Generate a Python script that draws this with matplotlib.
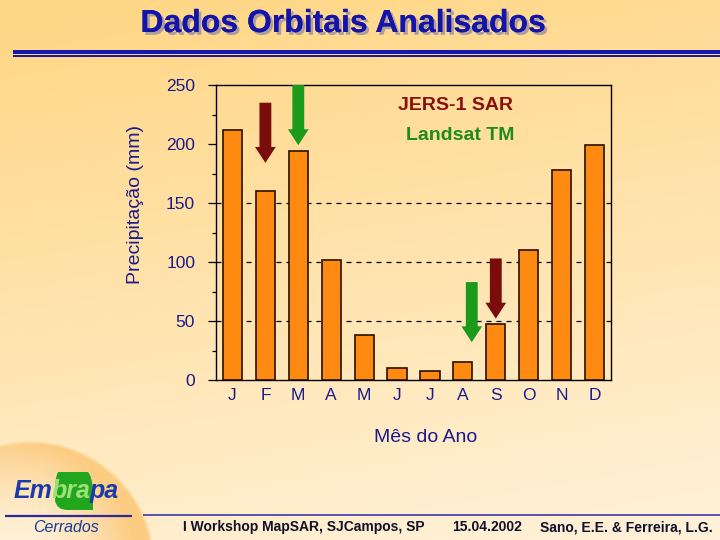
import numpy as np
import matplotlib
matplotlib.use("Agg")
import matplotlib.pyplot as plt
from matplotlib.patches import Rectangle, FancyArrow, PathPatch
from matplotlib.path import Path
import matplotlib.patheffects as pe

# ---------------- data ----------------
months = ["J", "F", "M", "A", "M", "J", "J", "A", "S", "O", "N", "D"]
precip = [212, 160, 194, 102, 38, 10, 7.5, 15, 47.5, 110, 178, 199]
yticks = [0, 50, 100, 150, 200, 250]
grid_levels = [50, 100, 150]

# arrows: (x position in month index, top value, tip value)
jers_x = [1, 8]
jers_top = [235, 103]
jers_tip = [184, 52]
landsat_x = [2, 7.27]
landsat_top = [250, 83]
landsat_tip = [199, 32]

title = "Dados Orbitais Analisados"
ylabel = "Precipitação (mm)"
xlabel = "Mês do Ano"
footer = ["I Workshop MapSAR, SJCampos, SP", "15.04.2002", "Sano, E.E. & Ferreira, L.G."]

FONT = "Liberation Sans"
NAVY = "#1a1a8c"
W, H = 720, 540

fig = plt.figure(figsize=(7.2, 5.4), dpi=100)

# ---------------- background ----------------
bg = fig.add_axes([0, 0, 1, 1], zorder=0)
yy, xx = np.mgrid[0:H, 0:W].astype(float)
c0 = np.array([255, 215, 135]) / 255.0
c1 = np.array([255, 242, 218]) / 255.0
t = np.clip(0.2 * xx / W + 0.85 * yy / H - 0.05, 0, 1)[..., None]
img = c0 * (1 - t) + c1 * t
# radial glow bottom-left
cx, cy, R = 30, 565, 125
d = np.sqrt((xx - cx) ** 2 + (yy - cy) ** 2)
s = np.clip(d / R, 0, 1) ** 1.8
s += 0.3 * np.clip((xx - cx) / R, -1, 1)
s = np.clip(s, 0, 1)[..., None]
cin_l = np.array([255, 243, 220]) / 255.0
cin_o = np.array([252, 204, 130]) / 255.0
glow = cin_l * (1 - s) + cin_o * s
soft = np.clip((R - d) / 4.0, 0, 1)[..., None]
img = img * (1 - soft) + glow * soft
bg.imshow(img, extent=[0, W, H, 0], aspect="auto", interpolation="bilinear")
bg.set_xlim(0, W)
bg.set_ylim(H, 0)
bg.axis("off")

# title with shadow
bg.text(343, 24, title, ha="center", va="center", fontsize=23, fontweight="bold",
        family=FONT, color="#1414a8",
        path_effects=[pe.withSimplePatchShadow(offset=(2, -2), shadow_rgbFace="#9a90a0", alpha=0.8),
                      pe.Normal()])
# title rules
bg.add_patch(Rectangle((13, 50), W - 13, 4.3, color="#1818a8", lw=0))
bg.add_patch(Rectangle((13, 55.3), W - 13, 1.3, color="#1818a8", lw=0))

# footer
bg.plot([5, 132], [516, 516], color="#2a2a9a", lw=1.6, solid_capstyle="butt")
bg.plot([143, 720], [515, 515], color="#3a3aa8", lw=1.2, solid_capstyle="butt")
bg.text(183, 527, footer[0], ha="left", va="center", fontsize=10, fontweight="bold",
        family=FONT, color="#10102a")
bg.text(452, 527, footer[1], ha="left", va="center", fontsize=10, fontweight="bold",
        family=FONT, color="#10102a")
bg.text(713, 527, footer[2], ha="right", va="center", fontsize=10, fontweight="bold",
        family=FONT, color="#10102a")
bg.text(66, 528, "Cerrados", ha="center", va="center", fontsize=11.5, style="italic",
        family=FONT, color="#1a3a9a")

# Embrapa logo: green leaf + text
verts = [(62, 472), (88, 472), (92, 476), (93, 490), (93, 510), (68, 510),
         (56, 510), (55, 500), (55, 490), (55, 478), (58, 472), (62, 472)]
codes = [Path.MOVETO, Path.LINETO, Path.CURVE3, Path.CURVE3, Path.LINETO, Path.LINETO,
         Path.CURVE3, Path.CURVE3, Path.LINETO, Path.CURVE3, Path.CURVE3, Path.CLOSEPOLY]
bg.add_patch(PathPatch(Path(verts, codes), facecolor="#22a61e", edgecolor="none"))
x0 = 14
for part, col in [("Em", "#1a3aaa"), ("bra", "#9ee07a"), ("pa", "#1a3aaa")]:
    tt = bg.text(x0, 491, part, ha="left", va="center", fontsize=18, fontweight="bold",
                 style="italic", family=FONT, color=col)
    fig.canvas.draw()
    bb = tt.get_window_extent()
    x0 += bb.width * 0.97

# ---------------- chart ----------------
ax = fig.add_axes([216 / W, 1 - 380 / H, (611 - 216) / W, (380 - 85) / H], zorder=1)
ax.set_facecolor("none")
x = np.arange(len(months))
ax.bar(x, precip, width=0.58, color="#ff8a12", edgecolor="#2a1000", linewidth=1.2, zorder=3)
for g in grid_levels:
    ax.axhline(g, color="black", lw=0.9, ls=(0, (4, 4)), zorder=1)
ax.set_xlim(-0.5, len(months) - 0.5)
ax.set_ylim(0, 250)
ax.set_yticks(yticks)
ax.set_yticklabels([str(v) for v in yticks], fontsize=12.5, color=NAVY, family=FONT)
ax.set_yticks(np.arange(25, 250, 50), minor=True)
ax.set_xticks(x)
ax.set_xticklabels(months, fontsize=12.5, color=NAVY, family=FONT)
ax.tick_params(axis="y", which="major", length=6, width=0.9, pad=9, left=True)
ax.tick_params(axis="y", which="minor", length=3, width=0.9)
ax.tick_params(axis="x", length=0, pad=6)
for sp in ax.spines.values():
    sp.set_color("black")
    sp.set_linewidth(1.0)

# axis titles placed as in the reference
ax.text((136 - 216) / 395, (380 - 205) / 295, ylabel, rotation=90, ha="center", va="center",
        fontsize=14, color=NAVY, family=FONT, transform=ax.transAxes)
ax.text((426 - 216) / 395, (380 - 437) / 295, xlabel, ha="center", va="center",
        fontsize=14, color=NAVY, family=FONT, transform=ax.transAxes)

# arrows
def draw_arrow(xp, top, tip, col):
    ax.add_patch(FancyArrow(xp, top, 0, tip - top, width=0.36, head_width=0.63,
                            head_length=13.5, length_includes_head=True,
                            color=col, lw=0, zorder=4, clip_on=False))

for xp, tp, tq in zip(jers_x, jers_top, jers_tip):
    draw_arrow(xp, tp, tq, "#7a0c0c")
for xp, tp, tq in zip(landsat_x, landsat_top, landsat_tip):
    draw_arrow(xp, tp, tq, "#1c9a1c")

ax.text(5.03, 233, "JERS-1 SAR", ha="left", va="center", fontsize=14, fontweight="bold",
        family=FONT, color="#8a1010")
ax.text(5.28, 207.5, "Landsat TM", ha="left", va="center", fontsize=14, fontweight="bold",
        family=FONT, color="#1c8c1c")

fig.savefig("out.png", dpi=100)
